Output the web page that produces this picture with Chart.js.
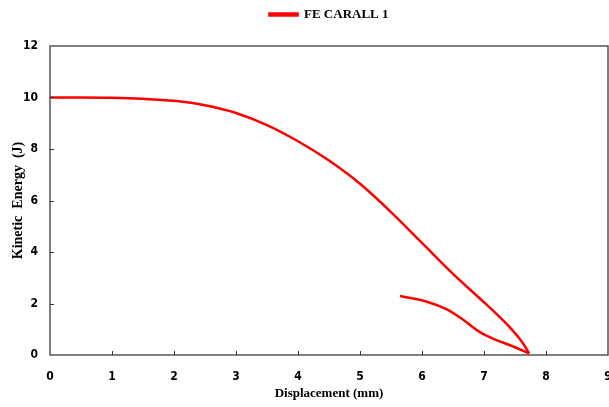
<!DOCTYPE html>
<html><head><meta charset="utf-8">
<script src="https://cdn.jsdelivr.net/npm/chart.js@4.4.1/dist/chart.umd.min.js"></script>
<style>html,body{margin:0;padding:0;background:#fff}#c{display:block}</style>
</head><body>
<canvas id="c" width="609" height="407"></canvas>
<script>
const seriesName = "FE CARALL 1";
// loading branch
const dispLoad = [0, 0.5, 1, 1.5, 2, 2.5, 3, 3.5, 4, 4.5, 5, 5.5, 6, 6.5, 7, 7.2, 7.4, 7.6, 7.73];
const energyLoad = [10, 10, 9.99, 9.95, 9.87, 9.7, 9.4, 8.93, 8.3, 7.55, 6.65, 5.55, 4.35, 3.15, 2.05, 1.6, 1.12, 0.55, 0.06];
// rebound branch (displacement values after the peak)
const dispRebound = [5.645, 6.08, 6.4, 6.67, 6.8, 6.94, 7.05, 7.2, 7.5, 7.73];
const energyRebound = [2.29, 2.07, 1.77, 1.36, 1.12, 0.88, 0.74, 0.58, 0.3, 0.06];
const xTicks = [0,1,2,3,4,5,6,7,8,9];
const yTicks = [0,2,4,6,8,10,12];

const toPts = (xs, ys) => xs.map((x,i)=>({x:x,y:ys[i]}));
const tickFont = {family:"'Liberation Sans Narrow','DejaVu Sans Condensed','Liberation Sans',sans-serif", size:12, weight:'bold'};
const titleFont = {family:"'Liberation Serif','DejaVu Serif',serif", size:13, weight:'bold'};

const framePlugin = {
  id:'frame',
  beforeLayout(chart){
    const lg = chart.legend;
    if (lg && !lg._wrapped){
      const orig = lg.fit;
      lg.fit = function(){ orig.call(this); this.height = 46; };
      lg._wrapped = true;
    }
  },
  afterDraw(chart){
    const {ctx, chartArea:a, scales} = chart;
    ctx.save();
    ctx.strokeStyle = '#555';
    ctx.lineWidth = 1.5;
    ctx.strokeRect(a.left, a.top, a.right-a.left, a.bottom-a.top);
    ctx.lineWidth = 1;
    ctx.strokeStyle = '#333';
    ctx.beginPath();
    xTicks.forEach(v=>{ if(v>0 && v<9){ const px = Math.round(scales.x.getPixelForValue(v))+0.5; ctx.moveTo(px,a.bottom); ctx.lineTo(px,a.bottom-4);} });
    yTicks.forEach(v=>{ if(v>0 && v<12){ const py = Math.round(scales.y.getPixelForValue(v))+0.5; ctx.moveTo(a.left,py); ctx.lineTo(a.left+4,py);} });
    ctx.stroke();
    ctx.restore();
  }
};

const lineStyle = {showLine:true, borderColor:'#ff0000', backgroundColor:'#ff0000', borderWidth:2.5, pointRadius:0, cubicInterpolationMode:'monotone', fill:false};

new Chart(document.getElementById('c'), {
  type:'scatter',
  data:{datasets:[
    Object.assign({label:seriesName, data:toPts(dispLoad, energyLoad)}, lineStyle),
    Object.assign({label:seriesName + ' rebound', data:toPts(dispRebound, energyRebound)}, lineStyle)
  ]},
  options:{
    responsive:false, animation:false,
    layout:{padding:{top:0,right:1,left:0,bottom:0}},
    plugins:{
      legend:{display:true, position:'top', fullSize:false,
        labels:{boxWidth:28, boxHeight:2, color:'#000', padding:8,
          font:{family:"'Liberation Serif','DejaVu Serif',serif", size:13, weight:'bold'},
          filter:(item)=>item.datasetIndex===0}},
      tooltip:{enabled:false}
    },
    scales:{
      x:{type:'linear', min:0, max:9,
         afterBuildTicks(s){ s.ticks = xTicks.map(v=>({value:v})); },
         afterFit(s){ s.height = 52; s.paddingRight = 0; },
         grid:{display:false}, border:{display:false},
         ticks:{color:'#000', font:tickFont, padding:7},
         title:{display:true, text:'Displacement (mm)', color:'#000', font:titleFont, padding:{top:2,bottom:6}}},
      y:{type:'linear', min:0, max:12,
         afterBuildTicks(s){ s.ticks = yTicks.map(v=>({value:v})); },
         afterFit(s){ s.width = 50; },
         grid:{display:false}, border:{display:false},
         ticks:{color:'#000', font:tickFont, padding:4},
         title:{display:true, text:'Kinetic  Energy  (J)', color:'#000', font:{family:"'Liberation Serif','DejaVu Serif',serif", size:14, weight:'bold'}, padding:{top:10,bottom:6}}}
    }
  },
  plugins:[framePlugin]
});
</script>
</body></html>
